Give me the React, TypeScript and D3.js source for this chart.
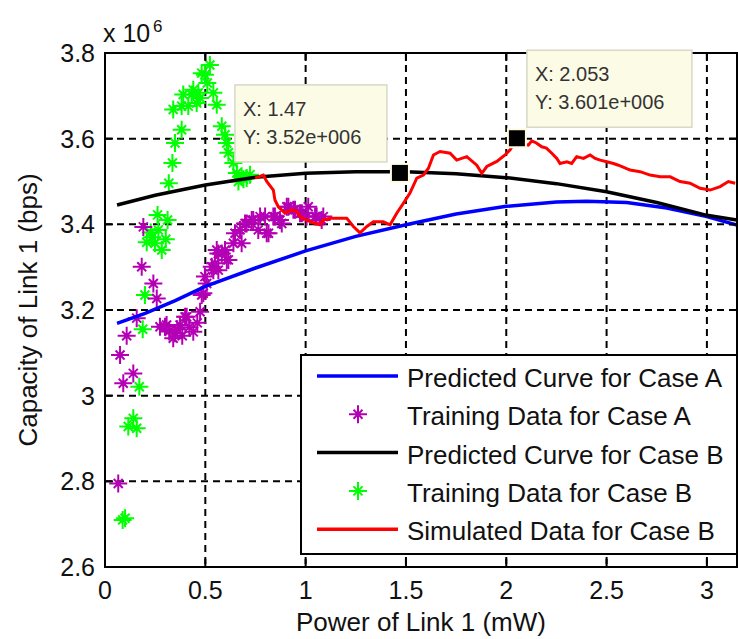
import React from "react";
import * as d3 from "d3";

// Predicted capacity curve, case A (power mW, capacity x1e6 bps)
const curveAx = [0.06, 0.2, 0.35, 0.5, 0.75, 1.0, 1.25, 1.5, 1.75, 2.0, 2.25, 2.4, 2.6, 2.8, 3.0, 3.15];
const curveAy = [3.169, 3.192, 3.222, 3.255, 3.298, 3.338, 3.372, 3.399, 3.424, 3.442, 3.452, 3.454, 3.451, 3.438, 3.418, 3.398];

// Predicted capacity curve, case B
const curveBx = [0.06, 0.25, 0.5, 0.75, 1.0, 1.25, 1.5, 1.75, 2.0, 2.25, 2.5, 2.75, 3.0, 3.15];
const curveBy = [3.445, 3.468, 3.492, 3.51, 3.519, 3.523, 3.523, 3.518, 3.509, 3.495, 3.476, 3.451, 3.421, 3.41];

// Simulated data, case B
const simBx = [0.748, 0.789, 0.806, 0.839, 0.847, 0.864, 0.897, 0.931, 0.956, 0.972, 1.005, 1.047, 1.072, 1.088, 1.122, 1.205, 1.238, 1.271, 1.305, 1.338, 1.387, 1.421, 1.454, 1.487, 1.52, 1.554, 1.587, 1.612, 1.637, 1.67, 1.72, 1.753, 1.803, 1.853, 1.878, 1.903, 1.953, 1.994, 2.019, 2.053, 2.075, 2.11, 2.127, 2.15, 2.177, 2.2, 2.227, 2.252, 2.268, 2.302, 2.326, 2.351, 2.385, 2.418, 2.443, 2.468, 2.501, 2.534, 2.559, 2.6, 2.617, 2.667, 2.717, 2.767, 2.817, 2.866, 2.916, 2.966, 3.016, 3.066, 3.107, 3.141];
const simBy = [3.508, 3.515, 3.5, 3.48, 3.457, 3.441, 3.426, 3.434, 3.43, 3.418, 3.41, 3.402, 3.399, 3.41, 3.414, 3.414, 3.395, 3.38, 3.395, 3.406, 3.406, 3.399, 3.426, 3.449, 3.473, 3.508, 3.515, 3.531, 3.562, 3.57, 3.566, 3.55, 3.558, 3.538, 3.519, 3.535, 3.547, 3.562, 3.574, 3.601, 3.588, 3.585, 3.595, 3.59, 3.581, 3.578, 3.566, 3.554, 3.542, 3.546, 3.542, 3.558, 3.554, 3.562, 3.554, 3.55, 3.546, 3.542, 3.538, 3.53, 3.527, 3.523, 3.515, 3.511, 3.511, 3.5, 3.496, 3.484, 3.48, 3.488, 3.5, 3.496];

// Training data, case A
const trainAx = [0.066, 0.075, 0.108, 0.141, 0.091, 0.158, 0.191, 0.183, 0.241, 0.258, 0.274, 0.299, 0.307, 0.34, 0.349, 0.374, 0.399, 0.407, 0.44, 0.474, 0.32, 0.36, 0.42, 0.385, 0.46, 0.482, 0.49, 0.498, 0.507, 0.532, 0.54, 0.548, 0.565, 0.565, 0.557, 0.582, 0.598, 0.607, 0.615, 0.64, 0.648, 0.673, 0.681, 0.698, 0.706, 0.731, 0.739, 0.764, 0.773, 0.798, 0.806, 0.815, 0.839, 0.847, 0.872, 0.881, 0.906, 0.914, 0.939, 0.947, 0.972, 0.981, 1.005, 1.013, 1.047, 1.055, 1.08, 1.088];
const trainAy = [2.795, 3.095, 3.14, 3.052, 3.029, 3.181, 3.394, 3.301, 3.262, 3.227, 3.161, 3.161, 3.165, 3.134, 3.146, 3.165, 3.184, 3.184, 3.149, 3.196, 3.15, 3.155, 3.16, 3.14, 3.17, 3.235, 3.239, 3.278, 3.262, 3.301, 3.293, 3.309, 3.332, 3.293, 3.34, 3.332, 3.34, 3.317, 3.317, 3.356, 3.379, 3.387, 3.356, 3.402, 3.402, 3.41, 3.41, 3.387, 3.418, 3.418, 3.379, 3.379, 3.418, 3.418, 3.41, 3.402, 3.441, 3.441, 3.434, 3.434, 3.426, 3.426, 3.418, 3.441, 3.418, 3.418, 3.41, 3.418];

// Training data, case B
const trainBx = [0.523, 0.498, 0.482, 0.51, 0.54, 0.557, 0.465, 0.432, 0.39, 0.44, 0.382, 0.34, 0.415, 0.457, 0.474, 0.382, 0.349, 0.336, 0.318, 0.582, 0.598, 0.607, 0.615, 0.64, 0.657, 0.681, 0.706, 0.723, 0.665, 0.69, 0.262, 0.312, 0.228, 0.208, 0.303, 0.283, 0.249, 0.266, 0.235, 0.199, 0.188, 0.171, 0.141, 0.116, 0.158, 0.1, 0.088];
const trainBy = [3.772, 3.749, 3.753, 3.73, 3.707, 3.679, 3.707, 3.703, 3.703, 3.714, 3.676, 3.668, 3.676, 3.683, 3.695, 3.621, 3.59, 3.543, 3.496, 3.629, 3.609, 3.59, 3.567, 3.543, 3.52, 3.512, 3.508, 3.516, 3.5, 3.505, 3.422, 3.41, 3.381, 3.358, 3.365, 3.34, 3.356, 3.387, 3.37, 3.235, 3.155, 3.021, 2.947, 2.928, 2.924, 2.714, 2.71];

// Axis ticks
const xTicks = [0, 0.5, 1, 1.5, 2, 2.5, 3];
const xTickLabels = ["0", "0.5", "1", "1.5", "2", "2.5", "3"];
const yTicks = [2.6, 2.8, 3.0, 3.2, 3.4, 3.6, 3.8];
const yTickLabels = ["2.6", "2.8", "3", "3.2", "3.4", "3.6", "3.8"];

// Data cursor tips
const tipX = [1.47, 2.053];
const tipY = [3.52, 3.601];
const tipXText = ["X: 1.47", "X: 2.053"];
const tipYText = ["Y: 3.52e+006", "Y: 3.601e+006"];

const legendLabels = [
  "Predicted Curve for Case A",
  "Training Data for Case A",
  "Predicted Curve for Case B",
  "Training Data for Case B",
  "Simulated Data for Case B",
];

const FONT = "'Liberation Sans', Arial, Helvetica, sans-serif";
const BLUE = "#0000ff";
const RED = "#ff0000";
const GREEN = "#00ff00";
const MAGENTA = "#b400b4";

const W = 738;
const H = 639;
const left = 105;
const right = 737;
const top = 53;
const bottom = 567;

function Star({ x, y, color }: { x: number; y: number; color: string }) {
  const r = 9;
  const d = 4.5;
  const path = `M${x - r},${y}H${x + r}M${x},${y - r}V${y + r}M${x - d},${y - d}L${x + d},${y + d}M${x - d},${y + d}L${x + d},${y - d}`;
  return <path d={path} stroke={color} strokeWidth={2} fill="none" />;
}

export default function App() {
  const x = d3.scaleLinear().domain([0, 3.15]).range([left, right]);
  const y = d3.scaleLinear().domain([2.6, 3.8]).range([bottom, top]);

  const line = d3
    .line<[number, number]>()
    .x((d) => x(d[0]))
    .y((d) => y(d[1]));

  const zip = (a: number[], b: number[]) => a.map((v, i) => [v, b[i]] as [number, number]);

  const grid = "7,5";

  return (
    <svg
      width={W}
      height={H}
      style={{ position: "absolute", left: 0, top: 0, background: "#fff" }}
      fontFamily={FONT}
    >
      <rect x={0} y={0} width={W} height={H} fill="#fff" />
      <defs>
        <clipPath id="plotArea">
          <rect x={left} y={top} width={right - left} height={bottom - top} />
        </clipPath>
      </defs>

      {/* grid */}
      {xTicks.slice(1).map((t) => (
        <line key={"gx" + t} x1={x(t)} x2={x(t)} y1={top} y2={bottom} stroke="#000" strokeWidth={2} strokeDasharray={grid} />
      ))}
      {yTicks.slice(1, -1).map((t) => (
        <line key={"gy" + t} x1={left} x2={right} y1={y(t)} y2={y(t)} stroke="#000" strokeWidth={2} strokeDasharray={grid} />
      ))}

      <g clipPath="url(#plotArea)">
        {/* training data */}
        {zip(trainBx, trainBy).map((p, i) => (
          <Star key={"gb" + i} x={x(p[0])} y={y(p[1])} color={GREEN} />
        ))}
        {zip(trainAx, trainAy).map((p, i) => (
          <Star key={"ma" + i} x={x(p[0])} y={y(p[1])} color={MAGENTA} />
        ))}
        {/* curves */}
        <path d={line(zip(curveAx, curveAy)) || ""} fill="none" stroke={BLUE} strokeWidth={3.5} />
        <path d={line(zip(curveBx, curveBy)) || ""} fill="none" stroke="#000" strokeWidth={3.5} />
        <path d={line(zip(simBx, simBy)) || ""} fill="none" stroke={RED} strokeWidth={3} strokeLinejoin="miter" />
      </g>

      {/* axes frame */}
      <rect x={left} y={top} width={right - left} height={bottom - top} fill="none" stroke="#000" strokeWidth={2} />
      {xTicks.map((t) => (
        <g key={"xt" + t}>
          <line x1={x(t)} x2={x(t)} y1={bottom} y2={bottom - 8} stroke="#000" strokeWidth={2} />
          <line x1={x(t)} x2={x(t)} y1={top} y2={top + 8} stroke="#000" strokeWidth={2} />
        </g>
      ))}
      {yTicks.map((t) => (
        <g key={"yt" + t}>
          <line x1={left} x2={left + 8} y1={y(t)} y2={y(t)} stroke="#000" strokeWidth={2} />
          <line x1={right} x2={right - 8} y1={y(t)} y2={y(t)} stroke="#000" strokeWidth={2} />
        </g>
      ))}

      {/* tick labels */}
      {xTicks.map((t, i) => (
        <text key={"xl" + t} x={x(t)} y={599} fontSize={25} textAnchor="middle" fill="#111">
          {xTickLabels[i]}
        </text>
      ))}
      {yTicks.map((t, i) => (
        <text key={"yl" + t} x={95} y={y(t) + 9} fontSize={25} textAnchor="end" fill="#111">
          {yTickLabels[i]}
        </text>
      ))}

      {/* exponent */}
      <text x={103} y={42} fontSize={25} fill="#111">x 10</text>
      <text x={153} y={32} fontSize={17} fill="#111">6</text>

      {/* axis titles */}
      <text x={(left + right) / 2} y={631} fontSize={26} textAnchor="middle" fill="#111">
        Power of Link 1 (mW)
      </text>
      <text
        transform={`translate(37,${(top + bottom) / 2}) rotate(-90)`}
        fontSize={26}
        textAnchor="middle"
        fill="#111"
      >
        Capacity of Link 1 (bps)
      </text>

      {/* data tips */}
      {tipX.map((tx, i) => {
        const px = x(tx);
        const py = y(tipY[i]);
        const bw = i === 0 ? 152 : 165;
        const bx = i === 0 ? px - 165 : px + 10;
        const by = py - 88;
        return (
          <g key={"tip" + i}>
            <rect x={bx} y={by} width={bw} height={77} fill="#fbfbe6" stroke="#d8d8c8" strokeWidth={1.5} />
            <text x={bx + 8} y={by + 31} fontSize={20} fill="#333">{tipXText[i]}</text>
            <text x={bx + 8} y={by + 59} fontSize={20} fill="#333">{tipYText[i]}</text>
            <rect x={px - 9} y={py - 9} width={18} height={18} fill="#000" stroke="#fffbe0" strokeWidth={2} />
          </g>
        );
      })}

      {/* legend */}
      <g>
        <rect x={301} y={355} width={436} height={199} fill="#fff" stroke="#000" strokeWidth={2} />
        {legendLabels.map((lbl, i) => {
          const ry = 376 + i * 38.3;
          let sample: React.ReactNode = null;
          if (i === 0) sample = <line x1={317} x2={398} y1={ry} y2={ry} stroke={BLUE} strokeWidth={3.5} />;
          if (i === 1) sample = <Star x={358} y={ry} color={MAGENTA} />;
          if (i === 2) sample = <line x1={317} x2={398} y1={ry} y2={ry} stroke="#000" strokeWidth={3.5} />;
          if (i === 3) sample = <Star x={358} y={ry} color={GREEN} />;
          if (i === 4) sample = <line x1={317} x2={398} y1={ry} y2={ry} stroke={RED} strokeWidth={3.5} />;
          return (
            <g key={"lg" + i}>
              {sample}
              <text x={407} y={ry + 11} fontSize={26} fill="#111">{lbl}</text>
            </g>
          );
        })}
      </g>
    </svg>
  );
}
